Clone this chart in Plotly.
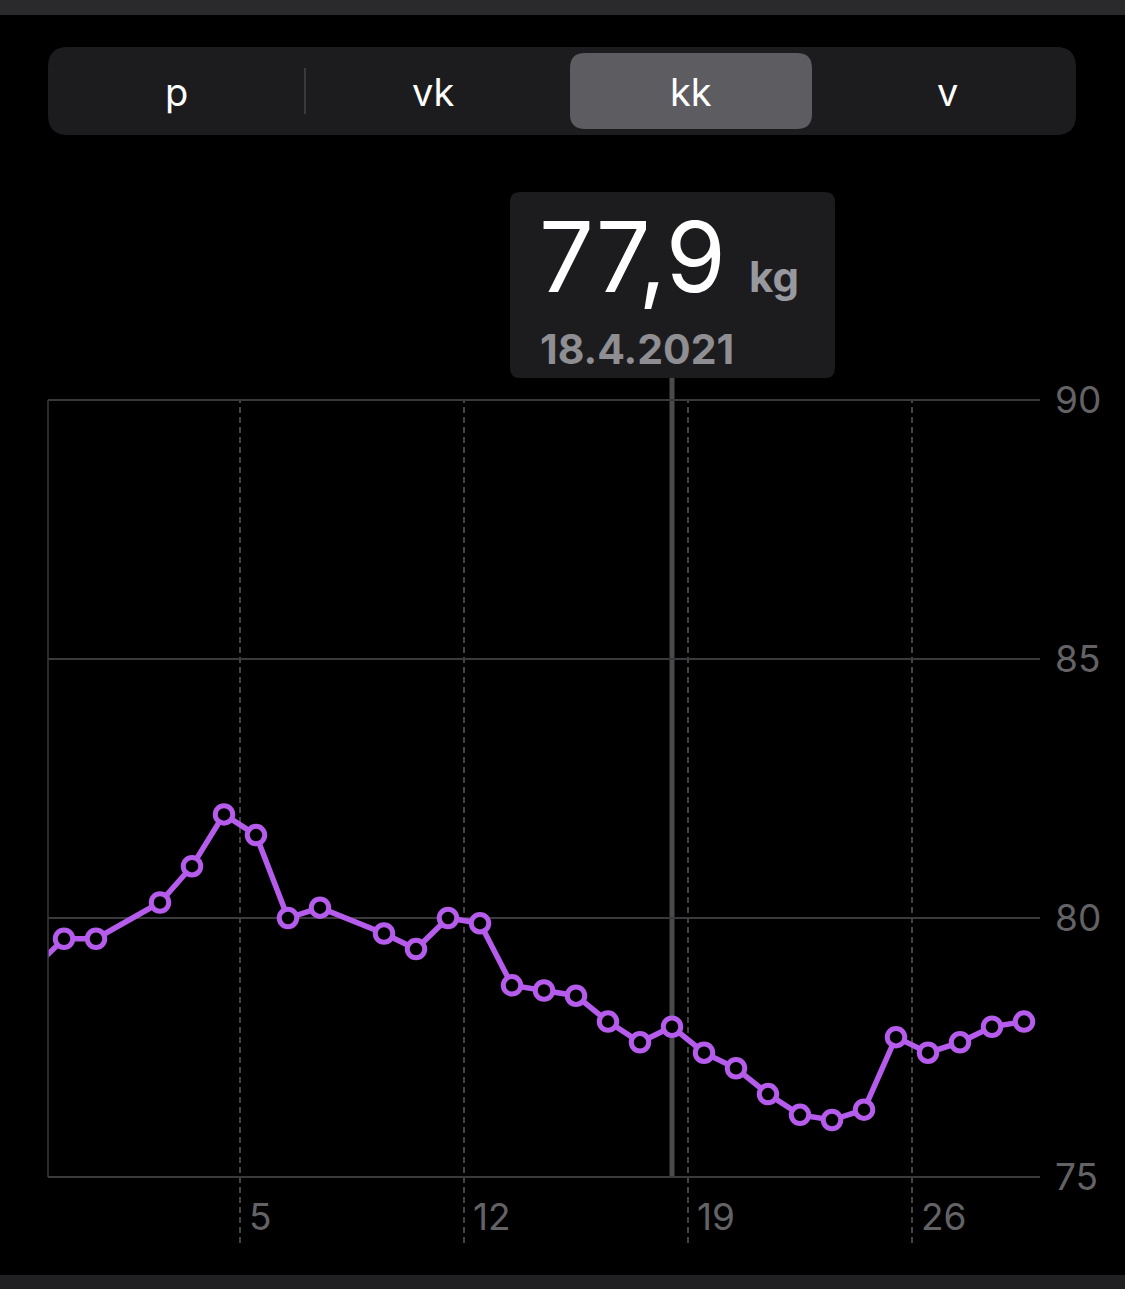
import plotly.graph_objects as go
import pandas as pd

# ---------------- data ----------------
dates = ["2021-03-29", "2021-03-30", "2021-03-31", "2021-04-02", "2021-04-03",
         "2021-04-04", "2021-04-05", "2021-04-06", "2021-04-07", "2021-04-09",
         "2021-04-10", "2021-04-11", "2021-04-12", "2021-04-13", "2021-04-14",
         "2021-04-15", "2021-04-16", "2021-04-17", "2021-04-18", "2021-04-19",
         "2021-04-20", "2021-04-21", "2021-04-22", "2021-04-23", "2021-04-24",
         "2021-04-25", "2021-04-26", "2021-04-27", "2021-04-28", "2021-04-29"]
weights = [79.0, 79.6, 79.6, 80.3, 81.0,
           82.0, 81.6, 80.0, 80.2, 79.7,
           79.4, 80.0, 79.9, 78.7, 78.6,
           78.5, 78.0, 77.6, 77.9, 77.4,
           77.1, 76.6, 76.2, 76.1, 76.3,
           77.7, 77.4, 77.6, 77.9, 78.0]
x_range = ["2021-03-30", "2021-04-30"]
week_ticks = ["2021-04-05", "2021-04-12", "2021-04-19", "2021-04-26"]
week_labels = ["5", "12", "19", "26"]
y_min, y_max = 75, 90
y_ticks = [75, 80, 85, 90]
segments = ["p", "vk", "kk", "v"]
selected_segment = "kk"
selected_date = "2021-04-18"
unit = "kg"

# ---------------- geometry helpers ----------------
W, H = 1125, 1289
FONT = "Inter"
PURPLE = "#b65cec"
GRID = "#3a3a3c"
LABEL = "#636366"

PLOT_TOP, PLOT_BOTTOM, PLOT_LEFT, PLOT_RIGHT = 400, 1177, 48, 1040


def fx(px):
    return px / W


def fy(py):
    return 1 - py / H


def rrect(x0, y0, x1, y1, r):
    pts = [
        ("M", [(x0 + r, y0)]), ("L", [(x1 - r, y0)]), ("Q", [(x1, y0), (x1, y0 + r)]),
        ("L", [(x1, y1 - r)]), ("Q", [(x1, y1), (x1 - r, y1)]), ("L", [(x0 + r, y1)]),
        ("Q", [(x0, y1), (x0, y1 - r)]), ("L", [(x0, y0 + r)]), ("Q", [(x0, y0), (x0 + r, y0)]),
    ]
    s = ""
    for cmd, ps in pts:
        s += cmd + " " + " ".join(f"{fx(a):.5f},{fy(b):.5f}" for a, b in ps) + " "
    return s + "Z"


# small padding so the edge grid lines (75 / 90) are drawn
ppu = (PLOT_BOTTOM - PLOT_TOP) / (y_max - y_min)
pad = 0.05
dom_top = PLOT_TOP - pad * ppu
dom_bottom = PLOT_BOTTOM + pad * ppu

fig = go.Figure()

fig.add_trace(go.Scatter(
    x=dates, y=weights, mode="lines+markers",
    xperiod=86400000, xperiodalignment="middle",
    line=dict(color=PURPLE, width=5.5),
    marker=dict(size=17.5, color="black", line=dict(color=PURPLE, width=5)),
    hoverinfo="skip", showlegend=False,
))

shapes = []
# top and bottom strips
shapes.append(dict(type="rect", xref="paper", yref="paper", x0=0, x1=1, y0=fy(15), y1=1,
                   fillcolor="#2a2a2c", line=dict(width=0)))
shapes.append(dict(type="rect", xref="paper", yref="paper", x0=0, x1=1, y0=0, y1=fy(1275),
                   fillcolor="#202022", line=dict(width=0)))
# segmented control
shapes.append(dict(type="path", xref="paper", yref="paper", path=rrect(48, 47, 1076, 135, 20),
                   fillcolor="#1c1c1e", line=dict(width=0)))
seg_w = (1076 - 48) / len(segments)
sel_i = segments.index(selected_segment)
shapes.append(dict(type="path", xref="paper", yref="paper",
                   path=rrect(48 + sel_i * seg_w + 8, 53, 48 + (sel_i + 1) * seg_w - 7, 129, 15),
                   fillcolor="#5c5c61", line=dict(width=0)))
shapes.append(dict(type="line", xref="paper", yref="paper", x0=fx(305), x1=fx(305),
                   y0=fy(68), y1=fy(114), line=dict(color="#3a3a3c", width=2)))

# left border of plot
shapes.append(dict(type="line", xref="paper", yref="paper", x0=fx(PLOT_LEFT), x1=fx(PLOT_LEFT),
                   y0=fy(PLOT_BOTTOM), y1=fy(PLOT_TOP), line=dict(color=GRID, width=1.5)))
# dashed week lines
for d in week_ticks:
    shapes.append(dict(type="line", xref="x", yref="paper", x0=d, x1=d,
                       y0=fy(1243), y1=fy(PLOT_TOP), layer="between",
                       line=dict(color="#5a5a5e", width=1.5, dash="6px,4px")))
# selection line
sel_x = pd.Timestamp(selected_date) + pd.Timedelta(hours=12)
shapes.append(dict(type="line", xref="x", yref="paper", x0=sel_x, x1=sel_x,
                   y0=fy(PLOT_BOTTOM), y1=fy(378), layer="between",
                   line=dict(color="#4a4a4c", width=5)))
# tooltip box
shapes.append(dict(type="path", xref="paper", yref="paper", path=rrect(510, 192, 835, 378, 10),
                   fillcolor="#1c1c1e", line=dict(width=0)))

annotations = []
for i, s in enumerate(segments):
    annotations.append(dict(xref="paper", yref="paper", x=fx(48 + (i + 0.5) * seg_w), y=fy(92),
                            text=s, showarrow=False, xanchor="center", yanchor="middle",
                            font=dict(family=FONT, size=38, color="white", weight=400)))

sel_val = weights[dates.index(selected_date)]
val_text = f"{sel_val:.1f}".replace(".", ",")
ts = pd.Timestamp(selected_date)
date_text = f"{ts.day}.{ts.month}.{ts.year}"
annotations.append(dict(xref="paper", yref="paper", x=fx(537), y=fy(256), text=val_text,
                        showarrow=False, xanchor="left", yanchor="middle",
                        font=dict(family=FONT, size=97, color="white", weight=400)))
annotations.append(dict(xref="paper", yref="paper", x=fx(747), y=fy(277), text=unit,
                        showarrow=False, xanchor="left", yanchor="middle",
                        font=dict(family=FONT, size=42, color="#98989f", weight=700)))
annotations.append(dict(xref="paper", yref="paper", x=fx(538), y=fy(349), text=date_text,
                        showarrow=False, xanchor="left", yanchor="middle",
                        font=dict(family=FONT, size=41, color="#8e8e93", weight=700)))

fig.update_layout(
    width=W, height=H,
    margin=dict(l=0, r=0, t=0, b=0, pad=0, autoexpand=False),
    paper_bgcolor="black", plot_bgcolor="black",
    shapes=shapes, annotations=annotations,
    xaxis=dict(
        domain=[fx(PLOT_LEFT), fx(PLOT_RIGHT)], type="date", range=x_range,
        automargin=False,
        showgrid=False, zeroline=False, showline=False,
        tickmode="array", tickvals=week_ticks, ticktext=week_labels,
        ticks="", ticklabelposition="outside right", ticklabelshift=9,
        ticklabelstandoff=12,
        tickfont=dict(family=FONT, size=37, color=LABEL),
        fixedrange=True,
    ),
    yaxis=dict(
        domain=[fy(dom_bottom), fy(dom_top)], range=[y_min - pad, y_max + pad], side="right",
        automargin=False,
        tickmode="array", tickvals=y_ticks,
        showgrid=True, gridcolor=GRID, gridwidth=1.5,
        zeroline=False, showline=False, ticks="",
        ticklabelstandoff=14,
        tickfont=dict(family=FONT, size=37, color=LABEL),
        fixedrange=True,
    ),
)

fig.write_html(
    "out.html",
    config={"displayModeBar": False},
    post_script="document.body.style.margin='0';document.body.style.padding='0';"
                "document.body.style.overflow='hidden';document.body.style.background='black';",
)
